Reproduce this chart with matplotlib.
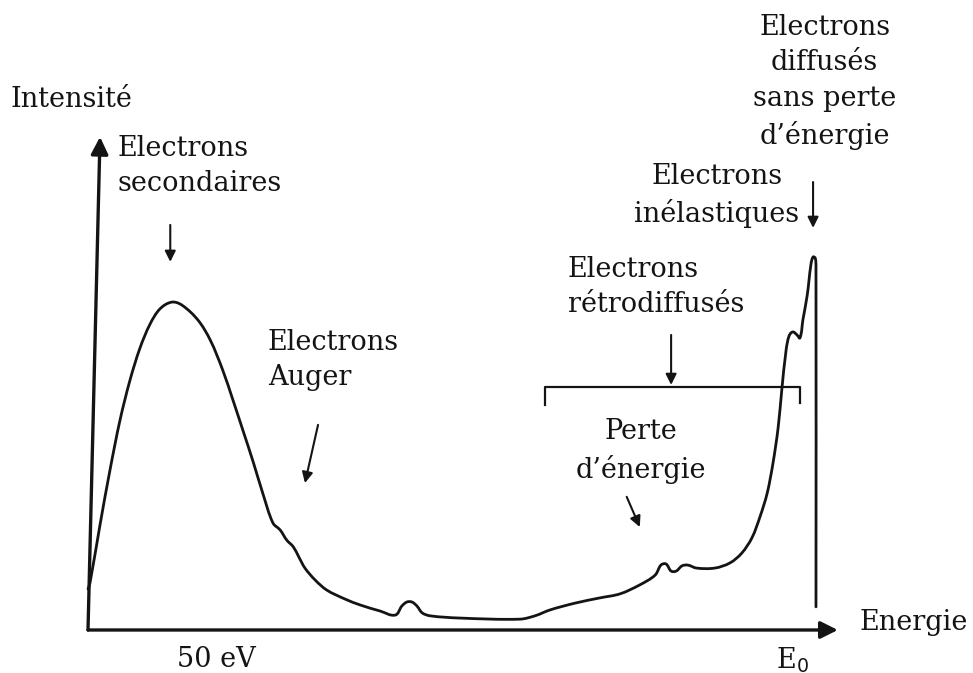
import matplotlib.pyplot as plt
import numpy as np
from matplotlib.patches import PathPatch
from matplotlib.path import Path

plt.rcParams["font.family"] = ["DejaVu Serif"]

# Energy in % of E0, intensity in arbitrary units (secondary peak ~ 88)
energy = [
    0.0, 0.27, 1.65, 3.02, 4.40, 5.77, 7.14, 8.52, 9.89, 11.5, 12.9, 15.1,
    16.8, 18.5, 19.9, 21.3, 22.7, 24.0, 25.4, 26.4, 27.3, 28.2, 28.9, 29.8,
    31.2, 32.8, 35.3, 37.4, 40.1, 42.2, 43.1, 43.8, 44.5, 45.2, 45.9, 47.0,
    51.1, 59.3, 61.4, 63.5, 66.9, 70.3, 73.1, 75.8, 77.9, 78.7, 79.4, 80.1,
    80.8, 81.6, 82.4, 83.6, 86.1, 88.2, 89.8, 91.2, 92.3, 93.3, 94.1, 94.8,
    95.3, 95.9, 96.3, 96.8, 97.4, 97.8, 98.2, 98.8, 99.3, 99.6, 99.9, 100.0,
    100.0,
]
intensity = [
    11.0, 12.6, 28.2, 42.9, 56.3, 67.0, 75.6, 82.0, 86.1, 87.9, 87.1, 83.1,
    77.7, 69.7, 61.7, 53.4, 45.0, 36.7, 28.7, 26.8, 24.1, 22.3, 19.8, 16.6,
    13.4, 10.7, 8.3, 6.7, 5.1, 4.0, 6.4, 7.5, 7.5, 6.4, 4.6, 3.8,
    3.2, 2.9, 3.8, 5.4, 7.2, 8.6, 9.7, 12.1, 14.7, 17.4, 17.7, 15.8,
    15.8, 17.2, 17.4, 16.6, 16.6, 18.0, 20.6, 24.7, 30.3, 36.7, 44.8, 54.2,
    64.3, 75.1, 78.8, 79.9, 79.1, 78.3, 83.1, 89.8, 97.9, 100.0, 99.7, 97.1,
    6.2,
]

tick_labels = ["50 eV", "E$_0$"]
tick_positions = [17.6, 96.7]

# backscattered range bracket: start, end, level
retro_span = (62.8, 97.8, 65.1)

ink = "#141414"


def smooth_path(xs, ys, aspect=(7.28, 3.73)):
    # cubic Bezier through every point; tangent length follows segment length
    # (measured in screen proportions) so uneven spacing does not overshoot
    scale = np.array(aspect)
    p = np.column_stack([xs, ys]) * scale
    n = len(p)
    tang = np.zeros_like(p)
    for i in range(n):
        a = p[max(i - 1, 0)]
        b = p[min(i + 1, n - 1)]
        d = b - a
        norm = np.hypot(*d)
        tang[i] = d / norm if norm else 0
    verts = [p[0]]
    codes = [Path.MOVETO]
    for i in range(n - 1):
        seg = np.hypot(*(p[i + 1] - p[i]))
        verts += [p[i] + tang[i] * seg / 3, p[i + 1] - tang[i + 1] * seg / 3,
                  p[i + 1]]
        codes += [Path.CURVE4] * 3
    return Path(np.array(verts) / scale, codes)


fig = plt.figure(figsize=(9.73, 6.73), dpi=100)
ax = fig.add_axes([0, 0, 1, 1])
ax.set_xlim(-12.09, 121.57)
ax.set_ylim(-11.53, 168.9)
ax.axis("off")

ax.add_patch(PathPatch(smooth_path(energy, intensity), fc="none", ec=ink,
                       lw=2.0, joinstyle="round", capstyle="round"))

# axes drawn as arrows
axis_arrow = dict(arrowstyle="-|>", color=ink, lw=2.4, mutation_scale=26,
                  shrinkA=0, shrinkB=0)
ax.annotate("", xy=(103.0, 0), xytext=(0, 0), arrowprops=axis_arrow)
ax.annotate("", xy=(1.65, 132.2), xytext=(0, 0), arrowprops=axis_arrow)


def pointer(x0, y0, x1, y1):
    ax.annotate("", xy=(x1, y1), xytext=(x0, y0),
                arrowprops=dict(arrowstyle="-|>", color=ink, lw=1.5,
                                mutation_scale=16, shrinkA=0, shrinkB=0))


pointer(11.3, 108.6, 11.3, 98.7)
pointer(31.6, 55.0, 29.8, 39.4)
pointer(74.0, 35.7, 75.8, 27.6)
pointer(99.6, 120.1, 99.6, 107.8)
pointer(80.1, 79.1, 80.1, 65.7)

x0, x1, yb = retro_span
ax.plot([x0, x0, x1, x1], [60.3, yb, yb, 60.9], color=ink, lw=1.6)

txt = dict(color=ink, fontsize=19.5, linespacing=1.4)
ax.text(-10.7, 142.1, "Intensité", ha="left", va="center", **txt)
ax.text(4.0, 124.4, "Electrons\nsecondaires", ha="left", va="center", **txt)
ax.text(24.7, 72.4, "Electrons\nAuger", ha="left", va="center", **txt)
ax.text(65.9, 92.0, "Electrons\nrétrodiffusés", ha="left", va="center", **txt)
ax.text(76.0, 48.0, "Perte\nd’énergie", ha="center", va="center", **txt)
ax.text(86.4, 116.4, "Electrons\ninélastiques", ha="center", va="center", **txt)
ax.text(101.2, 146.9, "Electrons\ndiffusés\nsans perte\nd’énergie",
        ha="center", va="center", **txt)
ax.text(106.0, 2.1, "Energie", ha="left", va="center", **txt)
for lab, pos in zip(tick_labels, tick_positions):
    ax.text(pos, -8.0, lab, ha="center", va="center", **txt)

fig.savefig("out.png", dpi=100)
